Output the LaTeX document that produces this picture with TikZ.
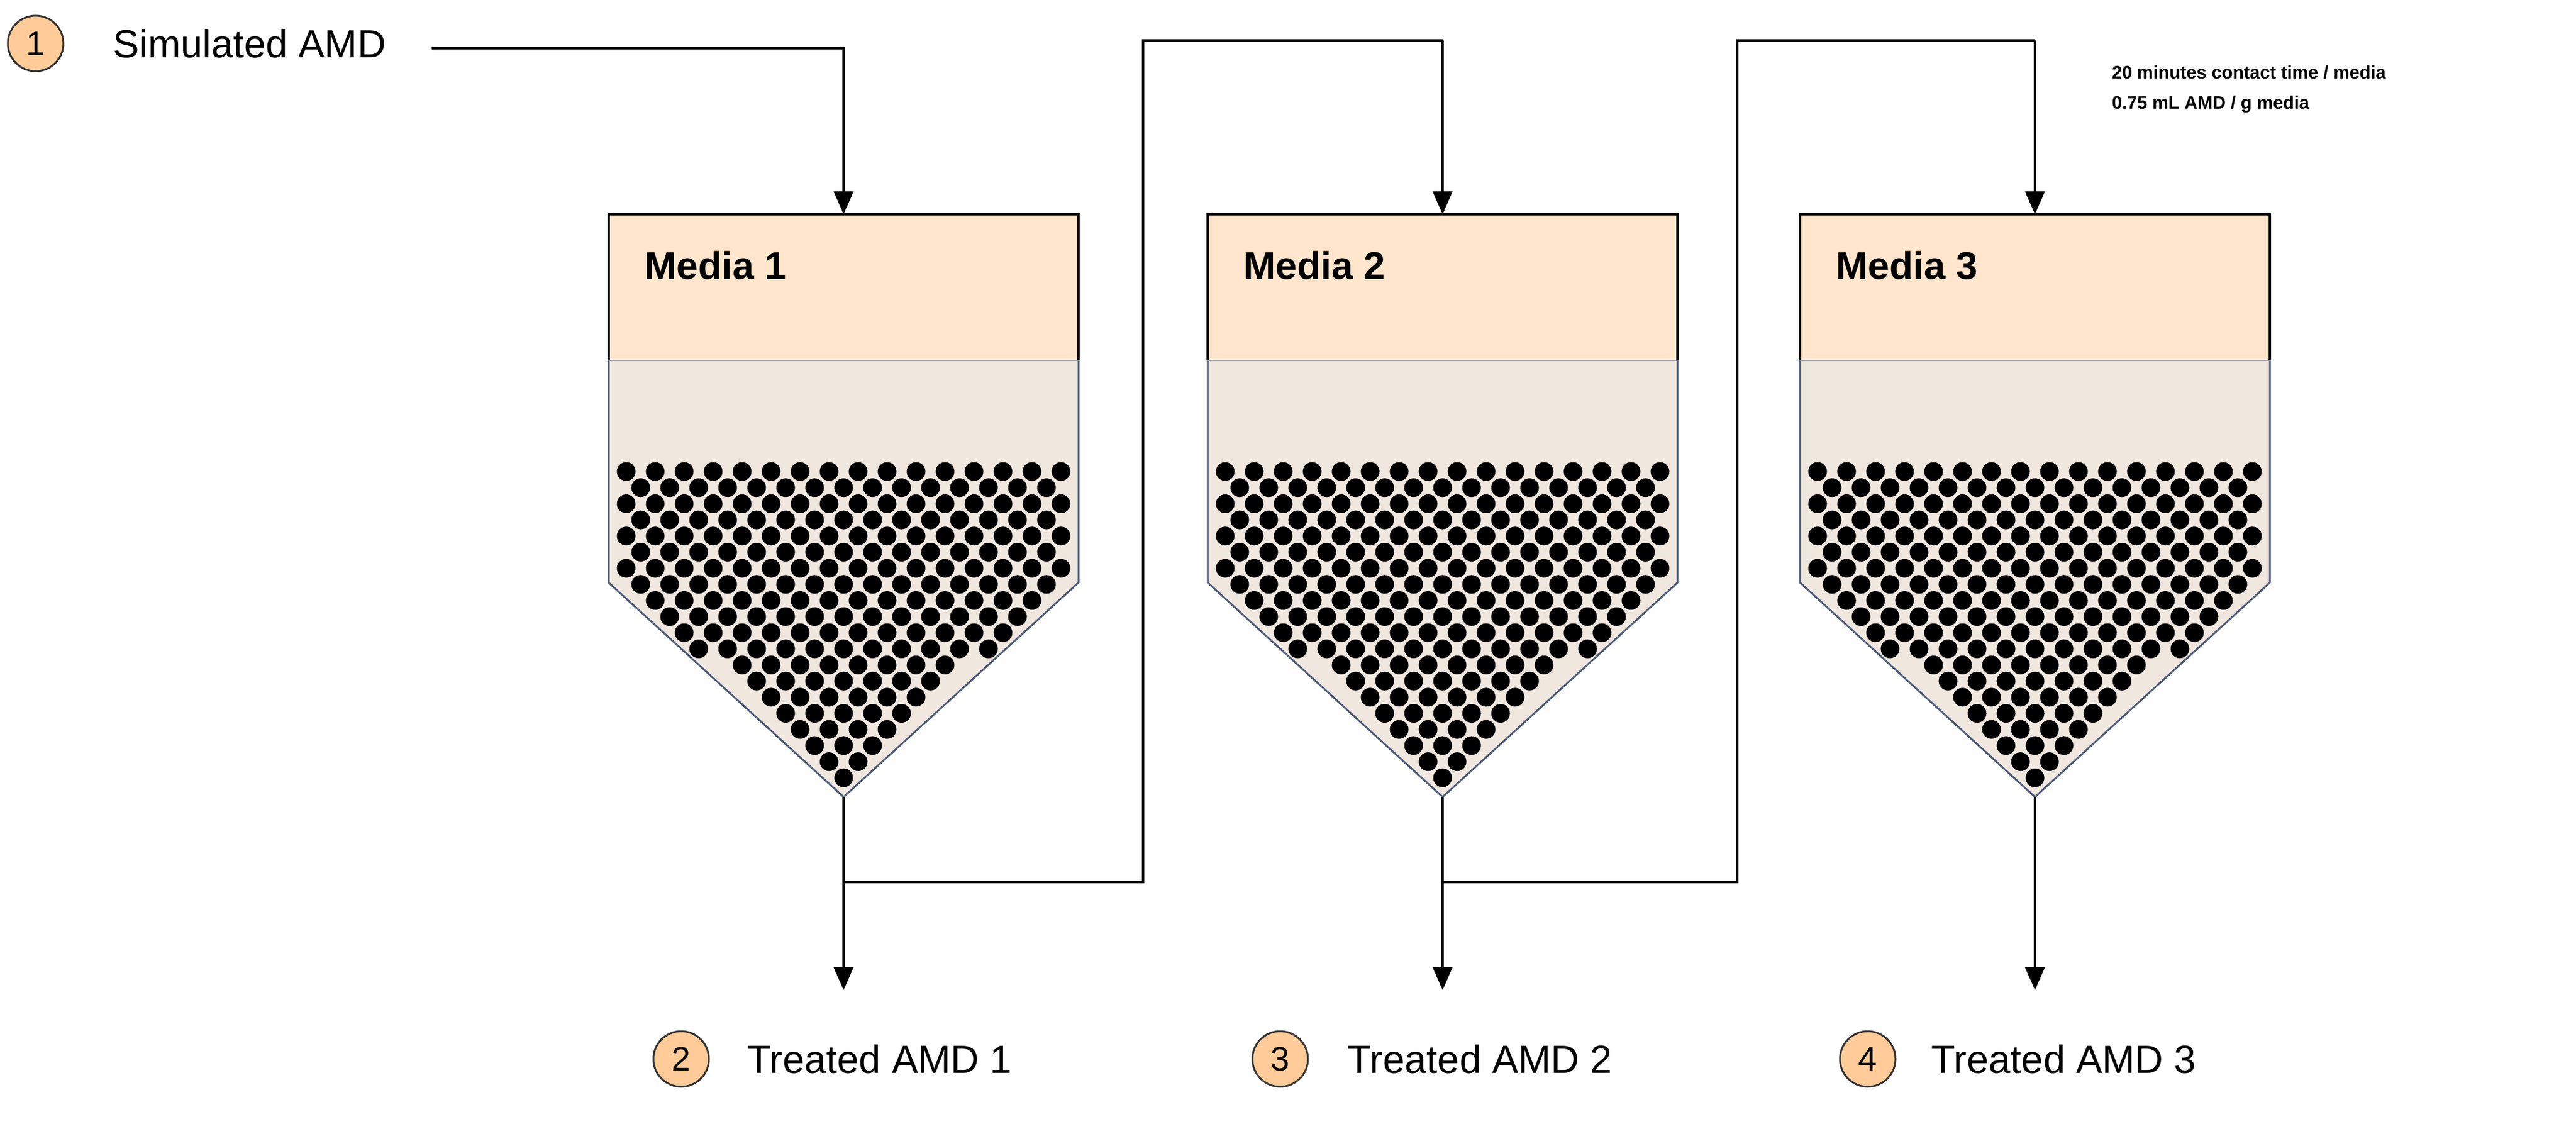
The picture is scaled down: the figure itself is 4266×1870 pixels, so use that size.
\documentclass[tikz,border=0pt]{standalone}
\usepackage{fontspec}
\setmainfont{Liberation Sans}
\usetikzlibrary{arrows.meta}
\definecolor{orng}{HTML}{FFE6CC}
\definecolor{beige}{HTML}{F0E7DF}
\definecolor{circ}{HTML}{FFCC99}
\definecolor{edge}{HTML}{4A5A78}
\tikzset{
  flow/.style={line width=4.5pt,-{Triangle[length=38pt,width=32pt]}},
  line/.style={line width=4.5pt},
  num/.style={circle,draw=black!80,line width=3pt,fill=circ,minimum size=92pt,inner sep=0pt,font=\fontsize{56}{66}\selectfont},
  lab/.style={anchor=west,font=\fontsize{65}{76}\selectfont},
  mlab/.style={anchor=west,font=\bfseries\fontsize{64}{76}\selectfont},
  note/.style={anchor=west,font=\bfseries\fontsize{30}{36}\selectfont}
}
\newcommand{\vessel}[2]{%
  \fill[beige,draw=edge,line width=3pt] (#1-389,597) -- (#1-389,965) -- (#1,1320) -- (#1+389,965) -- (#1+389,597);
  \fill[orng] (#1-389,355) rectangle (#1+389,597);
  \draw[line width=4.5pt] (#1-389,597) -- (#1-389,355) -- (#1+389,355) -- (#1+389,597);
  \draw[edge!60,line width=2.5pt] (#1-389,597) -- (#1+389,597);
  \node[mlab] (m#2) at (#1-333,440) {Media #2};
  \coordinate (top#2) at (#1,355);
  \coordinate (bot#2) at (#1,1320);
  \foreach \r in {0,...,19}{
    \foreach \k in {-8,...,8}{
      \pgfmathsetmacro\yy{781+\r*26.7}
      \pgfmathsetmacro\xx{\k*48+(mod(\r,2)==0?24:0)}
      \pgfmathsetmacro\ww{\yy<=965?365:(1320-\yy)/355*389-26}
      \pgfmathsetmacro\ok{abs(\xx)<=\ww?1:0}
      \ifdim\ok pt>0.5pt
        \fill (#1+\xx,\yy) circle (15.5pt);
      \fi
    }
  }
}
\begin{document}
\begin{tikzpicture}[x=1pt,y=-1pt]
\useasboundingbox (0,0) rectangle (4266,1870);
\vessel{1397}{1}
\vessel{2389}{2}
\vessel{3370}{3}
\node[num] (n1) at (59,72) {1};
\node[lab] (t1) at (184,72) {Simulated AMD};
\coordinate (s) at (715,80);
\draw[flow] (s) -| (top1);
\node[num] (n2) at (1128,1754) {2};
\node[lab] (t2) at (1234,1754) {Treated AMD 1};
\node[num] (n3) at (2120,1754) {3};
\node[lab] (t3) at (2228,1754) {Treated AMD 2};
\node[num] (n4) at (3093,1754) {4};
\node[lab] (t4) at (3195,1754) {Treated AMD 3};
\coordinate (e1) at (1397,1640);
\coordinate (e2) at (2389,1640);
\coordinate (e3) at (3370,1640);
\draw[flow] (bot1) -- (e1);
\draw[flow] (bot2) -- (e2);
\draw[flow] (bot3) -- (e3);
\coordinate (j1) at (1397,1461);
\coordinate (j2) at (2389,1461);
\draw[line] (j1) -- (1893,1461) -- (1893,67) -- (2389,67);
\draw[flow] (2389,67) -- (top2);
\draw[line] (j2) -- (2877,1461) -- (2877,67) -- (3370,67);
\draw[flow] (3370,67) -- (top3);
\node[note] (nt1) at (3494,120) {20 minutes contact time / media};
\node[note] (nt2) at (3494,173) {0.75 mL AMD / g media};
\end{tikzpicture}
\end{document}
